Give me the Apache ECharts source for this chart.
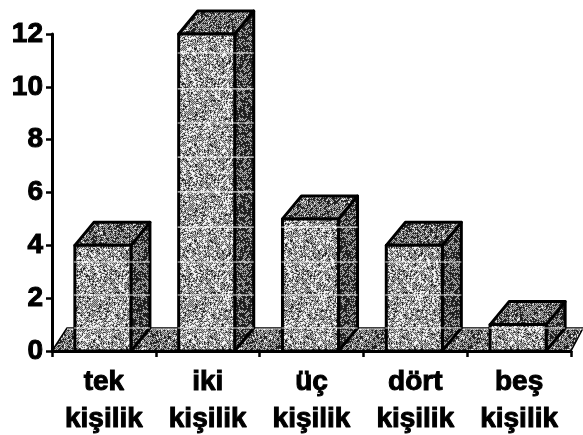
<!DOCTYPE html>
<html>
<head>
<meta charset="utf-8">
<script src="https://cdn.jsdelivr.net/npm/echarts@6/dist/echarts.min.js"></script>
<style>html,body{margin:0;padding:0;background:#fff}#c{width:583px;height:435px}</style>
</head>
<body>
<div id="c"></div>
<script>
const categories = ['tek\nkişilik', 'iki\nkişilik', 'üç\nkişilik', 'dört\nkişilik', 'beş\nkişilik'];
const values = [4, 12, 5, 4, 1];
const yTicks = { min: 0, max: 12, interval: 2 };
// pale scan lines seen across the bars, read in axis units
const scanLines = [11.28, 9.92, 8.63, 7.34, 6.02, 4.69, 3.37, 2.12];
const floorLine = 0.87;

// scanned halftone look: a fixed speckle per tone, slightly softened
function speckle(level, seed) {
  const size = 96, cv = document.createElement('canvas');
  cv.width = cv.height = size;
  const g = cv.getContext('2d'), img = g.createImageData(size, size);
  let s = seed >>> 0;
  const next = () => (s = (Math.imul(s, 1664525) + 1013904223) >>> 0) / 4294967296;
  const raw = new Float32Array(size * size);
  for (let y = 0; y < size; y++) for (let x = 0; x < size; x++) {
    const chk = (x + y) % 2 ? 0.28 : -0.28;
    raw[y * size + x] = next() + chk < level ? 245 : 30;
  }
  for (let y = 0; y < size; y++) for (let x = 0; x < size; x++) {
    const c = raw[y * size + x], r = raw[y * size + (x + 1) % size], d = raw[((y + 1) % size) * size + x];
    const v = c * 0.7 + r * 0.15 + d * 0.15;
    const i = (y * size + x) * 4;
    img.data[i] = img.data[i + 1] = img.data[i + 2] = v;
    img.data[i + 3] = 255;
  }
  g.putImageData(img, 0, 0);
  return { image: cv, repeat: 'repeat' };
}
const frontFill = speckle(0.60, 11), sideFill = speckle(0.22, 23),
      topFill = speckle(0.36, 37), floorFill = speckle(0.40, 51);

const DX = 19, DY = 23, BORDER = '#000';

function poly(points, fill, lw) {
  return { type: 'polygon', shape: { points },
    style: { fill, stroke: BORDER, lineWidth: lw, lineJoin: 'round' } };
}
function hline(x1, y, x2, w, op) {
  return { type: 'line', shape: { x1, y1: y, x2, y2: y },
    style: { stroke: '#fff', lineWidth: w, opacity: op } };
}

function renderFloor(params, api) {
  const base = api.coord([0, 0]);
  const band = api.size([1, 0])[0];
  const left = base[0] - band / 2, y0 = base[1];
  const right = left + band * 5;
  const yb = api.coord([0, floorLine])[1];
  return { type: 'group', children: [
    poly([[left, y0], [left + 15, yb], [right + 12, yb], [right, y0]], floorFill, 1.5),
    hline(left + 15, yb + 1, right + 12, 1, 0.85)
  ]};
}

function renderBar(params, api) {
  const idx = api.value(0), v = api.value(1);
  const base = api.coord([idx, 0]), top = api.coord([idx, v]);
  const w = api.size([1, 0])[0] * 0.54;
  const x0 = base[0] - w / 2 - 1, x1 = x0 + w, y0 = base[1], yt = top[1];
  const kids = [
    poly([[x1, y0], [x1 + DX, y0 - DY], [x1 + DX, yt - DY], [x1, yt]], sideFill, 3),
    poly([[x0, yt], [x0 + DX, yt - DY], [x1 + DX, yt - DY], [x1, yt]], topFill, 3),
    poly([[x0, y0], [x0, yt], [x1, yt], [x1, y0]], frontFill, 3)
  ];
  scanLines.concat(floorLine).forEach(l => {
    const y = api.coord([idx, l])[1];
    if (y > yt + 3) kids.push(hline(x0 - 1, y, x1 + DX, 1.2, 0.85));
  });
  return { type: 'group', children: kids };
}

const chart = echarts.init(document.getElementById('c'), null, { renderer: 'canvas' });
const labelFont = { fontFamily: 'Liberation Sans', fontWeight: 'bold', color: '#000',
  textBorderColor: '#000', textBorderWidth: 1 };
chart.setOption({
  animation: false,
  backgroundColor: '#fff',
  grid: { left: 52, top: 34, width: 519, height: 317, containLabel: false, outerBoundsMode: 'none' },
  xAxis: {
    type: 'category', data: categories, boundaryGap: true,
    axisLine: { lineStyle: { color: '#000', width: 3 } },
    axisTick: { show: true, length: 6, lineStyle: { color: '#000', width: 2.5 } },
    axisLabel: Object.assign({ fontSize: 28, lineHeight: 37, margin: 13, interval: 0, hideOverlap: false }, labelFont),
    splitLine: { show: false }, z: 5
  },
  yAxis: {
    type: 'value', min: yTicks.min, max: yTicks.max, interval: yTicks.interval,
    axisLine: { show: true, lineStyle: { color: '#000', width: 3 } },
    axisTick: { show: true, length: 6, lineStyle: { color: '#000', width: 2.5 } },
    axisLabel: Object.assign({ fontSize: 28, margin: 9 }, labelFont),
    splitLine: { show: false }, z: 5
  },
  series: [
    { type: 'custom', renderItem: renderFloor, data: [[0, 0]], encode: { x: 0, y: 1 }, clip: false, z: 1, silent: true },
    { type: 'custom', renderItem: renderBar, data: values.map((v, i) => [i, v]), encode: { x: 0, y: 1 }, clip: false, z: 2, silent: true }
  ]
});
</script>
</body>
</html>
